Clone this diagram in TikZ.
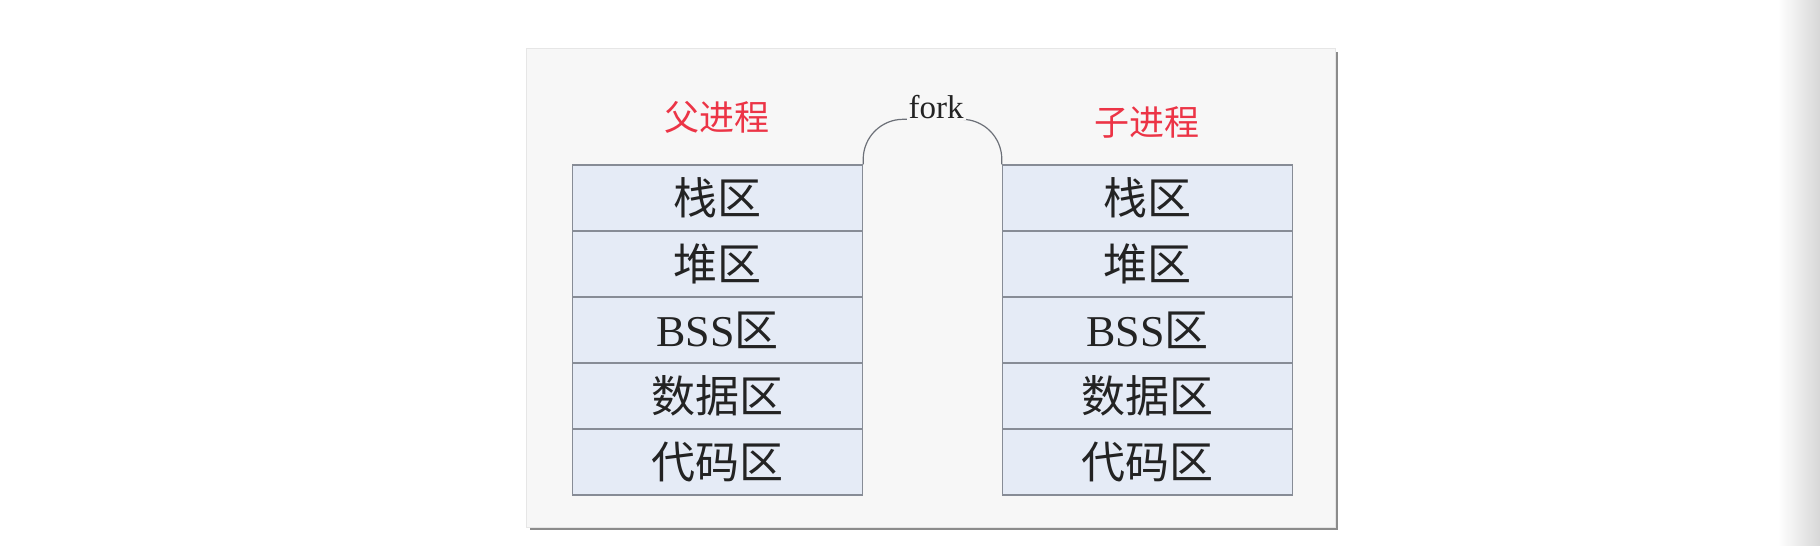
\documentclass[tikz,border=0pt]{standalone}
\usepackage{fontspec}
\setmainfont{Liberation Serif}
\newfontfamily\cjk{Noto Sans CJK SC}
\newcommand\zh[1]{{\cjk #1}}
\definecolor{panelbg}{RGB}{247,247,247}
\definecolor{panelline}{RGB}{230,230,230}
\definecolor{shadowc}{RGB}{140,140,140}
\definecolor{boxfill}{RGB}{229,235,246}
\definecolor{boxline}{RGB}{135,140,150}
\definecolor{headred}{RGB}{236,52,70}
\definecolor{txt}{RGB}{35,35,35}
\definecolor{edgegray}{RGB}{215,215,215}
\tikzset{
  membox/.style={draw=boxline, line width=1.4pt, fill=boxfill, minimum width=290pt,
    minimum height=66pt, inner sep=0pt, text=txt, font=\fontsize{44}{48}\selectfont},
  headlbl/.style={text=headred, inner sep=0pt, font=\fontsize{35}{40}\selectfont\cjk},
  archline/.style={draw=boxline!80!black, line width=1.2pt, rounded corners=40pt},
}
\begin{document}
\begin{tikzpicture}[x=1pt,y=-1pt]
\useasboundingbox (0,0) rectangle (1820,546);
\fill[white] (0,0) rectangle (1820,546);
\shade[left color=white, right color=edgegray] (1778,0) rectangle (1820,546);
% panel with shadow
\fill[shadowc] (530,52) rectangle (1338,530);
\fill[panelbg, draw=panelline, line width=1pt] (526,48) rectangle (1335,527);
% headings
\node[headlbl] (hl) at (717,117) {父进程};
\node[headlbl] (hr) at (1147,122) {子进程};
% left column
\node[membox] (L1) at (717.5,198) {\zh{栈区}};
\node[membox] (L2) at (717.5,264) {\zh{堆区}};
\node[membox] (L3) at (717.5,330) {BSS\zh{区}};
\node[membox] (L4) at (717.5,396) {\zh{数据区}};
\node[membox] (L5) at (717.5,462) {\zh{代码区}};
% right column
\node[membox] (R1) at (1147.5,198) {\zh{栈区}};
\node[membox] (R2) at (1147.5,264) {\zh{堆区}};
\node[membox] (R3) at (1147.5,330) {BSS\zh{区}};
\node[membox] (R4) at (1147.5,396) {\zh{数据区}};
\node[membox] (R5) at (1147.5,462) {\zh{代码区}};
% fork arch
\coordinate (al) at (L1.north east);
\coordinate (ar) at (R1.north west);
\draw[archline] (al) -- ([yshift=45pt]al) -- ([yshift=45pt]ar) -- (ar);
\node[fill=panelbg, inner sep=2pt, text=txt, font=\fontsize{33}{36}\selectfont, anchor=base] (fork) at (936,118) {fork};
\end{tikzpicture}
\end{document}
